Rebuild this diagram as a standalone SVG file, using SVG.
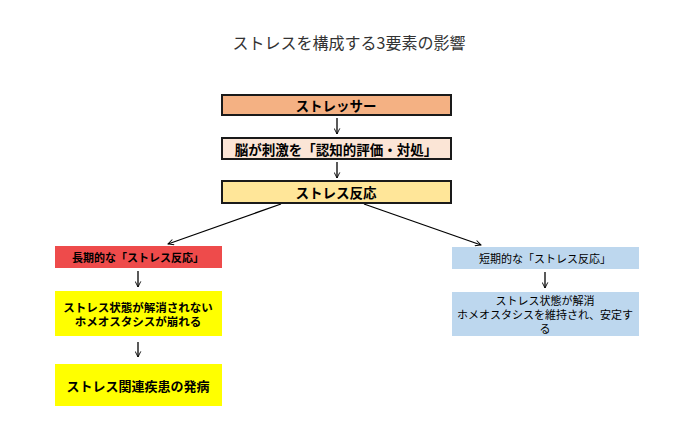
<svg xmlns="http://www.w3.org/2000/svg" width="699" height="435" viewBox="0 0 699 435">
<style>
text{font-family:"Noto Sans CJK JP","Noto Sans",sans-serif;text-anchor:middle;dominant-baseline:central;fill:#000}
.b{font-weight:bold}
.top{stroke:#1a1a1a;stroke-width:2}
.conn{stroke:#000;stroke-width:1.3;fill:none}
</style>
<defs>
<marker id="ah" viewBox="0 0 10 10" refX="9" refY="5" markerWidth="7" markerHeight="7" orient="auto" markerUnits="userSpaceOnUse">
<path d="M1,1 L9,5 L1,9" fill="none" stroke="#000" stroke-width="1.3"/>
</marker>
</defs>
<rect width="699" height="435" fill="#fff"/>
<text x="349" y="42" style="font-size:16px;fill:#333">ストレスを構成する3要素の影響</text>
<g id="connectors">
<line class="conn" x1="337" y1="118" x2="337" y2="134" marker-end="url(#ah)"/>
<line class="conn" x1="337" y1="162" x2="337" y2="178" marker-end="url(#ah)"/>
<line class="conn" x1="281" y1="204" x2="168" y2="244" marker-end="url(#ah)"/>
<line class="conn" x1="364" y1="204" x2="481" y2="245" marker-end="url(#ah)"/>
<line class="conn" x1="138" y1="271" x2="138" y2="287" marker-end="url(#ah)"/>
<line class="conn" x1="138" y1="342" x2="138" y2="357" marker-end="url(#ah)"/>
<line class="conn" x1="545" y1="272" x2="545" y2="288" marker-end="url(#ah)"/>
</g>
<g id="stressor">
<rect class="top" x="222" y="95" width="229" height="20" fill="#F4B183"/>
<text class="b" x="336" y="105" style="font-size:13.5px">ストレッサー</text>
</g>
<g id="brain">
<rect class="top" x="222" y="138" width="229" height="21" fill="#FBE5D6"/>
<text class="b" x="336" y="148.5" style="font-size:13.5px">脳が刺激を「認知的評価・対処」</text>
</g>
<g id="response">
<rect class="top" x="222" y="181" width="229" height="22" fill="#FFE699"/>
<text class="b" x="336" y="192" style="font-size:13.5px">ストレス反応</text>
</g>
<g id="long">
<rect x="55" y="246" width="167" height="22" fill="#EE4B4B"/>
<text class="b" x="138" y="257" style="font-size:11px">長期的な「ストレス反応」</text>
</g>
<g id="unresolved">
<rect x="55" y="291" width="167" height="45" fill="#FFFF00"/>
<text class="b" x="138" y="306.5" style="font-size:11.5px">ストレス状態が解消されない</text>
<text class="b" x="138" y="320.5" style="font-size:11.5px">ホメオスタシスが崩れる</text>
</g>
<g id="disease">
<rect x="55" y="364" width="167" height="42" fill="#FFFF00"/>
<text class="b" x="138" y="385" style="font-size:13px">ストレス関連疾患の発病</text>
</g>
<g id="short">
<rect x="452" y="247" width="187" height="22" fill="#BDD7EE"/>
<text x="545" y="258" style="font-size:11px">短期的な「ストレス反応」</text>
</g>
<g id="resolved">
<rect x="452" y="292" width="187" height="44" fill="#BDD7EE"/>
<text x="545" y="300" style="font-size:11px">ストレス状態が解消</text>
<text x="545" y="314" style="font-size:11px">ホメオスタシスを維持され、安定す</text>
<text x="545" y="327.5" style="font-size:11px">る</text>
</g>
</svg>
